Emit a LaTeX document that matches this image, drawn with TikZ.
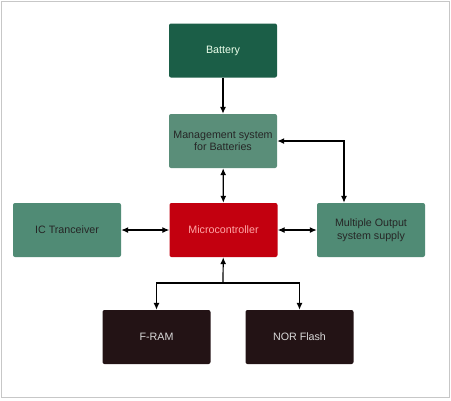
\documentclass[tikz,border=0pt]{standalone}
\usepackage{fontspec}
\setmainfont{Liberation Sans}
\usepackage{xcolor}
\usetikzlibrary{arrows.meta,positioning,calc}

\definecolor{battgreen}{HTML}{1B5E47}
\definecolor{mgmtgreen}{HTML}{5A8E79}
\definecolor{sidegreen}{HTML}{508B75}
\definecolor{mcured}{HTML}{C3000F}
\definecolor{memdark}{HTML}{231315}

\begin{document}
\begin{tikzpicture}[x=1pt, y=-1pt, >={Latex[length=7pt,width=6pt]},
    every node/.style={font=\fontsize{10.7}{12.5}\selectfont},
    block/.style={rounded corners=2pt, minimum width=108pt, minimum height=54pt, align=center, inner sep=2pt},
    link/.style={line width=1.2pt}]
        \useasboundingbox (0,0) rectangle (451,400);
        \draw[black!22] (1,1) rectangle (449,397);

        % Power side
        \node[block, fill=battgreen, text=green!8!white] (bat) at (223,50.5) {Battery};
        \node[block, fill=mgmtgreen, text=black!85] (mgmt) at (223,141) {Management system\\for Batteries};

        % Middle row
        \node[block, fill=sidegreen, text=black!85] (ic) at (67,230) {IC Tranceiver};
        \node[block, fill=mcured, text=red!35!white] (mcu) at (223.5,230) {Microcontroller};
        \node[block, fill=sidegreen, text=black!85] (mos) at (371,230) {Multiple Output\\system supply};

        % Memories
        \node[block, fill=memdark, text=black!15] (fram) at (156.5,337) {F-RAM};
        \node[block, fill=memdark, text=black!15] (nor) at (299.5,337) {NOR Flash};
        \coordinate (split) at (223,283);

        % Connectors
        \draw[->, link] (bat) -- (mgmt);
        \draw[<->, link] (mgmt) -- (mcu);
        \draw[<->, link] (ic) -- (mcu);
        \draw[<->, link] (mcu) -- (mos);
        \draw[<->, link] (mgmt.east) -| ([xshift=-27pt]mos.north);
        \draw[->, link] (split) -- (mcu);
        \draw[->, link] (split) -| (fram);
        \draw[->, link] (split) -| (nor);
    \end{tikzpicture}
\end{document}
